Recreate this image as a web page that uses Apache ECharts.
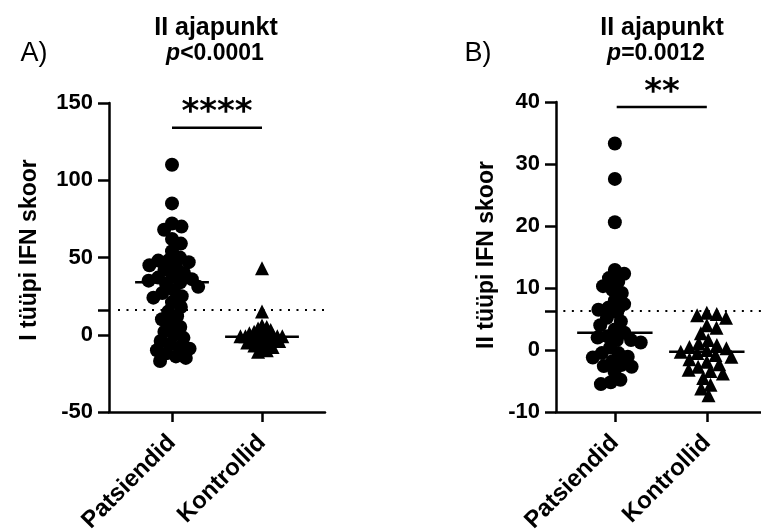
<!DOCTYPE html>
<html><head><meta charset="utf-8">
<script src="https://cdn.jsdelivr.net/npm/echarts@6/dist/echarts.min.js"></script>
<style>html,body{margin:0;padding:0;background:#fff}#c{width:761px;height:530px}</style>
</head><body><div id="c"></div>
<script>
// ---- data ----
const categories = ['Patsiendid', 'Kontrollid'];
// Panel A: I tüüpi IFN skoor
const aPatients = [110, 85, 72, 70, 68, 62, 59, 54, 50, 48, 48, 47, 45, 44, 42, 40, 38, 37, 36, 35, 34, 33, 31, 29, 27, 25, 24, 21, 18, 15, 12, 10, 7, 5, 2, 0, -2, -4, -6, -8, -9, -10, -12, -14, -15, -17];
const aControls = [43, 15, 6, 5, 4, 3, 2, 2, 1, 1, 0, 0, -1, -1, -1, -1, -2, -2, -3, -3, -4, -4, -5, -5, -6, -6, -7, -8, -9, -10, -11];
const aMedians = [34, -1.3];
const aThreshold = 16;
const aSigLevel = 134;
const aYTicks = [-50, 0, 50, 100, 150];
// Panel B: II tüüpi IFN skoor
const bPatients = [33.3, 27.6, 20.6, 12.9, 12.3, 11.6, 11.0, 10.3, 9.7, 9.2, 8.0, 7.4, 6.8, 6.5, 6.1, 5.2, 4.6, 4.0, 3.3, 2.8, 2.2, 2.0, 1.6, 1.6, 1.2, 0.4, -0.5, -0.5, -1.1, -1.2, -1.8, -2.4, -2.6, -2.7, -3.5, -4.8, -5.2, -5.5];
const bControls = [6.0, 5.8, 5.6, 5.2, 4.0, 3.6, 2.7, 1.6, 1.1, 0.8, 0.5, 0.3, 0, -0.3, -0.5, -0.8, -1.1, -1.5, -1.9, -2.3, -2.7, -3.2, -3.4, -3.8, -4.5, -5.6, -6.2, -7.3];
const bMedians = [2.8, -0.3];
const bThreshold = 6.3;
const bSigLevel = 39.2;
const bYTicks = [-10, 0, 10, 20, 30, 40];

// ---- layout ----
const FONT = 'Liberation Sans, Arial, sans-serif';
const gA = {left: 109, top: 103, width: 216, height: 309};
const gB = {left: 556, top: 102, width: 206, height: 310};
const xA = [0.3, 2.7], xB = [0.36, 2.6];
const yA = [-50, 150], yB = [-10, 40];

function swarm(values, center, pxX, pxY, D) {
  const placed = [];
  const sorted = values.slice().sort((a, b) => b - a);
  return sorted.map(v => {
    const y = v * pxY;
    const cands = [0];
    placed.forEach(p => {
      const dy = Math.abs(p.y - y);
      if (dy < D) { const dx = Math.sqrt(D * D - dy * dy); cands.push(p.x + dx, p.x - dx); }
    });
    cands.sort((a, b) => Math.abs(a) - Math.abs(b));
    const x = cands.find(c => placed.every(p => (p.x - c) ** 2 + (p.y - y) ** 2 >= D * D - 0.01));
    placed.push({x, y});
    return [center + x / pxX, v];
  });
}

const pxA = [gA.width / (xA[1] - xA[0]), gA.height / (yA[1] - yA[0])];
const pxB = [gB.width / (xB[1] - xB[0]), gB.height / (yB[1] - yB[0])];

function xAxisCfg(idx, range) {
  return {
    gridIndex: idx, type: 'value', min: range[0], max: range[1],
    splitLine: {show: false},
    axisLine: {onZero: false, lineStyle: {color: '#000', width: 2.5}},
    axisTick: {customValues: [1, 2], length: 10, lineStyle: {color: '#000', width: 2.5}},
    axisLabel: {customValues: [1, 2], formatter: v => categories[Math.round(v) - 1] || '',
      rotate: 45, color: '#000', fontWeight: 'bold', fontSize: 24, fontFamily: FONT, margin: 27}
  };
}
function yAxisCfg(idx, range, ticks, thr) {
  return {
    gridIndex: idx, type: 'value', min: range[0], max: range[1],
    splitLine: {show: false},
    axisLine: {show: true, onZero: false, lineStyle: {color: '#000', width: 2.5}},
    axisTick: {show: true, customValues: ticks.concat([thr]), length: 11, lineStyle: {color: '#000', width: 2.5}},
    axisLabel: {customValues: ticks, color: '#000', fontWeight: 'bold', fontSize: 22, fontFamily: FONT, margin: 16}
  };
}
function hline(idx, pts, style) {
  return {type: 'line', xAxisIndex: idx, yAxisIndex: idx, data: pts, symbol: 'none', silent: true,
    lineStyle: Object.assign({color: '#000', width: 2.5}, style || {}), z: 5, animation: false};
}
function scatter(idx, data, symbol) {
  return {type: 'scatter', xAxisIndex: idx, yAxisIndex: idx, data, symbol, symbolSize: 14,
    itemStyle: {color: '#000', opacity: 1}, animation: false, z: 3};
}

const series = [
  scatter(0, swarm(aPatients, 1, pxA[0], pxA[1], 10), 'circle'),
  scatter(0, swarm(aControls, 2, pxA[0], pxA[1], 5), 'triangle'),
  hline(0, [[1 - 0.41, aMedians[0]], [1 + 0.41, aMedians[0]]]),
  hline(0, [[2 - 0.41, aMedians[1]], [2 + 0.41, aMedians[1]]]),
  hline(0, [[0.4, aThreshold], [xA[1], aThreshold]], {width: 2, type: [2, 6.5]}),
  hline(0, [[1, aSigLevel], [2, aSigLevel]]),
  scatter(1, swarm(bPatients, 1, pxB[0], pxB[1], 10), 'circle'),
  scatter(1, swarm(bControls, 2, pxB[0], pxB[1], 10), 'triangle'),
  hline(1, [[1 - 0.41, bMedians[0]], [1 + 0.41, bMedians[0]]]),
  hline(1, [[2 - 0.41, bMedians[1]], [2 + 0.41, bMedians[1]]]),
  hline(1, [[0.44, bThreshold], [xB[1], bThreshold]], {width: 2, type: [2, 6.5]}),
  hline(1, [[1.02, bSigLevel], [2, bSigLevel]])
];

function txt(x, y, text, font, extra) {
  return {type: 'text', x, y, style: Object.assign({text, font, fill: '#000', align: 'center', verticalAlign: 'middle'}, extra || {}), z: 10};
}
const rich = {i: {fontStyle: 'italic', fontWeight: 'bold', fontSize: 23, fontFamily: FONT}, n: {fontWeight: 'bold', fontSize: 23, fontFamily: FONT}};

const graphic = [
  txt(34, 54, 'A)', '27px ' + FONT),
  txt(216, 28, 'II ajapunkt', 'bold 25px ' + FONT),
  {type: 'text', x: 215, y: 54, z: 10, style: {text: '{i|p}{n|<0.0001}', rich, fill: '#000', align: 'center', verticalAlign: 'middle'}},
  txt(217, 113, '****', 'bold 34px DejaVu Sans'),
  {type: 'text', x: 30, y: 250, rotation: Math.PI / 2, z: 10, style: {text: 'I tüüpi IFN skoor', font: 'bold 23px ' + FONT, fill: '#000', align: 'center', verticalAlign: 'middle'}},
  txt(478, 54, 'B)', '27px ' + FONT),
  txt(662, 28, 'II ajapunkt', 'bold 25px ' + FONT),
  {type: 'text', x: 656, y: 54, z: 10, style: {text: '{i|p}{n|=0.0012}', rich, fill: '#000', align: 'center', verticalAlign: 'middle'}},
  txt(662, 93, '**', 'bold 34px DejaVu Sans'),
  {type: 'text', x: 487, y: 255, rotation: Math.PI / 2, z: 10, style: {text: 'II tüüpi IFN skoor', font: 'bold 23px ' + FONT, fill: '#000', align: 'center', verticalAlign: 'middle'}}
];

const chart = echarts.init(document.getElementById('c'), null, {renderer: 'canvas'});
chart.setOption({
  animation: false,
  backgroundColor: '#fff',
  textStyle: {fontFamily: FONT},
  grid: [Object.assign({containLabel: false, outerBoundsMode: 'none'}, gA), Object.assign({containLabel: false, outerBoundsMode: 'none'}, gB)],
  xAxis: [xAxisCfg(0, xA), xAxisCfg(1, xB)],
  yAxis: [yAxisCfg(0, yA, aYTicks, aThreshold), yAxisCfg(1, yB, bYTicks, bThreshold)],
  series,
  graphic
});
</script></body></html>
